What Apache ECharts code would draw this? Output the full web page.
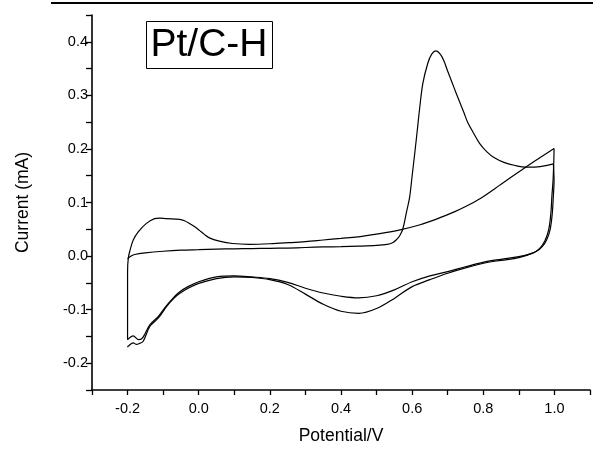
<!DOCTYPE html>
<html><head><meta charset="utf-8">
<script src="https://cdn.jsdelivr.net/npm/echarts@6/dist/echarts.min.js"></script>
<style>html,body{margin:0;padding:0;background:#fff}#c{width:593px;height:450px}</style>
</head><body><div id="c"></div><script>
// Tick labels (major ticks); minor ticks fall halfway between them
const xTickLabels = ['-0.2', '0.0', '0.2', '0.4', '0.6', '0.8', '1.0'];
const yTickLabels = ['-0.2', '-0.1', '0.0', '0.1', '0.2', '0.3', '0.4'];

// Scan 1, anodic (CO stripping peak)
const anodic1V = [-0.2, -0.19, -0.18, -0.15, -0.1, -0.05, 0.0, 0.05, 0.1, 0.15, 0.2, 0.25, 0.3, 0.35, 0.4, 0.45, 0.5, 0.53, 0.545, 0.555, 0.565, 0.574, 0.585, 0.593, 0.6, 0.607, 0.614, 0.621, 0.63, 0.644, 0.655, 0.667, 0.68, 0.69, 0.7, 0.718, 0.728, 0.746, 0.756, 0.774, 0.79, 0.811, 0.83, 0.858, 0.89, 0.923, 0.96, 0.997];
const anodic1I = [-0.005, 0.0, 0.003, 0.006, 0.009, 0.011, 0.012, 0.013, 0.0135, 0.014, 0.0145, 0.015, 0.016, 0.017, 0.0175, 0.0185, 0.02, 0.022, 0.025, 0.03, 0.038, 0.051, 0.085, 0.11, 0.15, 0.19, 0.232, 0.275, 0.322, 0.36, 0.377, 0.383, 0.376, 0.363, 0.345, 0.314, 0.297, 0.267, 0.25, 0.228, 0.21, 0.194, 0.184, 0.175, 0.169, 0.166, 0.167, 0.172];

// Scan 1, cathodic
const cathodic1V = [0.997, 0.999, 0.997, 0.994, 0.988, 0.978, 0.965, 0.95, 0.932, 0.9, 0.85, 0.811, 0.75, 0.7, 0.65, 0.6, 0.55, 0.5, 0.45, 0.4, 0.35, 0.3, 0.25, 0.2, 0.15, 0.1, 0.05, 0.0, -0.03, -0.054, -0.07, -0.09, -0.114, -0.137, -0.151, -0.161, -0.17, -0.184, -0.2];
const cathodic1I = [0.172, 0.14, 0.113, 0.08, 0.05, 0.03, 0.017, 0.009, 0.004, -0.001, -0.006, -0.010, -0.02, -0.029, -0.037, -0.048, -0.063, -0.074, -0.078, -0.075, -0.069, -0.06, -0.049, -0.042, -0.039, -0.037, -0.039, -0.048, -0.057, -0.067, -0.077, -0.092, -0.113, -0.128, -0.145, -0.155, -0.156, -0.149, -0.156];

// Scan 2, anodic (hydrogen desorption)
const anodic2V = [-0.2, -0.2, -0.2, -0.198, -0.193, -0.184, -0.17, -0.147, -0.124, -0.11, -0.091, -0.054, -0.04, -0.026, -0.012, 0.002, 0.015, 0.03, 0.058, 0.095, 0.142, 0.2, 0.254, 0.3, 0.35, 0.4, 0.448, 0.5, 0.56, 0.62, 0.672, 0.72, 0.746, 0.793, 0.85, 0.88, 0.915, 0.96, 0.999];
const anodic2I = [-0.156, -0.1, -0.03, -0.004, 0.011, 0.03, 0.045, 0.061, 0.07, 0.071, 0.07, 0.0685, 0.066, 0.061, 0.055, 0.048, 0.041, 0.034, 0.028, 0.0235, 0.022, 0.023, 0.025, 0.027, 0.03, 0.033, 0.036, 0.041, 0.048, 0.058, 0.07, 0.083, 0.091, 0.108, 0.134, 0.148, 0.164, 0.184, 0.201];

// Scan 2, cathodic
const cathodic2V = [0.999, 0.998, 0.996, 0.993, 0.99, 0.984, 0.973, 0.958, 0.94, 0.9, 0.85, 0.811, 0.75, 0.7, 0.65, 0.6, 0.55, 0.5, 0.45, 0.4, 0.35, 0.3, 0.25, 0.2, 0.15, 0.1, 0.05, 0.0, -0.03, -0.054, -0.07, -0.09, -0.114, -0.137, -0.156, -0.166, -0.175, -0.184, -0.198, -0.2];
const cathodic2I = [0.201, 0.172, 0.14, 0.113, 0.08, 0.05, 0.028, 0.014, 0.006, -0.003, -0.008, -0.012, -0.022, -0.032, -0.044, -0.057, -0.079, -0.098, -0.107, -0.103, -0.09, -0.071, -0.053, -0.044, -0.04, -0.039, -0.042, -0.051, -0.06, -0.07, -0.079, -0.094, -0.116, -0.131, -0.159, -0.163, -0.165, -0.162, -0.168, -0.17];

const pairs = (v, i) => v.map((x, k) => [x, i[k]]);
const segments = [[anodic1V, anodic1I], [cathodic1V, cathodic1I], [anodic2V, anodic2I], [cathodic2V, cathodic2I]];

const FONT = '"Liberation Sans", Arial, sans-serif';
const chart = echarts.init(document.getElementById('c'), null, {renderer: 'canvas'});
const labelOf = list => v => {
  const s = v.toFixed(1);
  const t = v.toFixed(2);
  return (t.endsWith('0') && list.indexOf(s) >= 0) ? s : '';
};

chart.setOption({
  animation: false,
  backgroundColor: '#fff',
  grid: {left: 92, top: 15, width: 501, height: 378, containLabel: false},
  xAxis: {
    type: 'value', min: -0.3, max: 1.1, interval: 0.1,
    name: 'Potential/V', nameLocation: 'middle', nameGap: 37,
    nameTextStyle: {fontFamily: FONT, fontSize: 17.5, color: '#000'},
    axisLine: {show: true, onZero: false, lineStyle: {color: '#000', width: 1.6}},
    axisTick: {show: true, inside: false, length: 5, lineStyle: {color: '#000', width: 1.3}},
    axisLabel: {show: true, formatter: labelOf(xTickLabels), margin: 11, fontFamily: FONT, fontSize: 14.5, color: '#000', showMinLabel: true, showMaxLabel: true, hideOverlap: false},
    splitLine: {show: false}
  },
  yAxis: {
    type: 'value', min: -0.25, max: 0.45, interval: 0.05,
    name: 'Current (mA)', nameLocation: 'middle', nameGap: 60, nameRotate: 90, nameMoveOverlap: false,
    nameTextStyle: {fontFamily: FONT, fontSize: 17.5, color: '#000'},
    axisLine: {show: true, onZero: false, lineStyle: {color: '#000', width: 1.6}},
    axisTick: {show: true, inside: false, length: 6, lineStyle: {color: '#000', width: 1.3}},
    axisLabel: {show: true, formatter: labelOf(yTickLabels), margin: 4, fontFamily: FONT, fontSize: 14.5, color: '#000', hideOverlap: false},
    splitLine: {show: false}
  },
  graphic: [
    {type: 'rect', left: 51, top: 2, shape: {width: 542, height: 2}, style: {fill: '#000'}, silent: true},
    {type: 'rect', left: 146, top: 21, shape: {width: 126, height: 47}, style: {fill: '#fff', stroke: '#000', lineWidth: 1}, z: 10},
    {type: 'text', x: 209, y: 45, style: {text: 'Pt/C-H', font: '39px "Liberation Sans", Arial, sans-serif', fill: '#000', align: 'center', verticalAlign: 'middle'}, z: 11}
  ],
  series: segments.map(([v, i]) => ({
    type: 'line',
    data: pairs(v, i), showSymbol: false, smooth: 0.35,
    lineStyle: {color: '#000', width: 1.2}, clip: false
  }))
});
</script></body></html>
